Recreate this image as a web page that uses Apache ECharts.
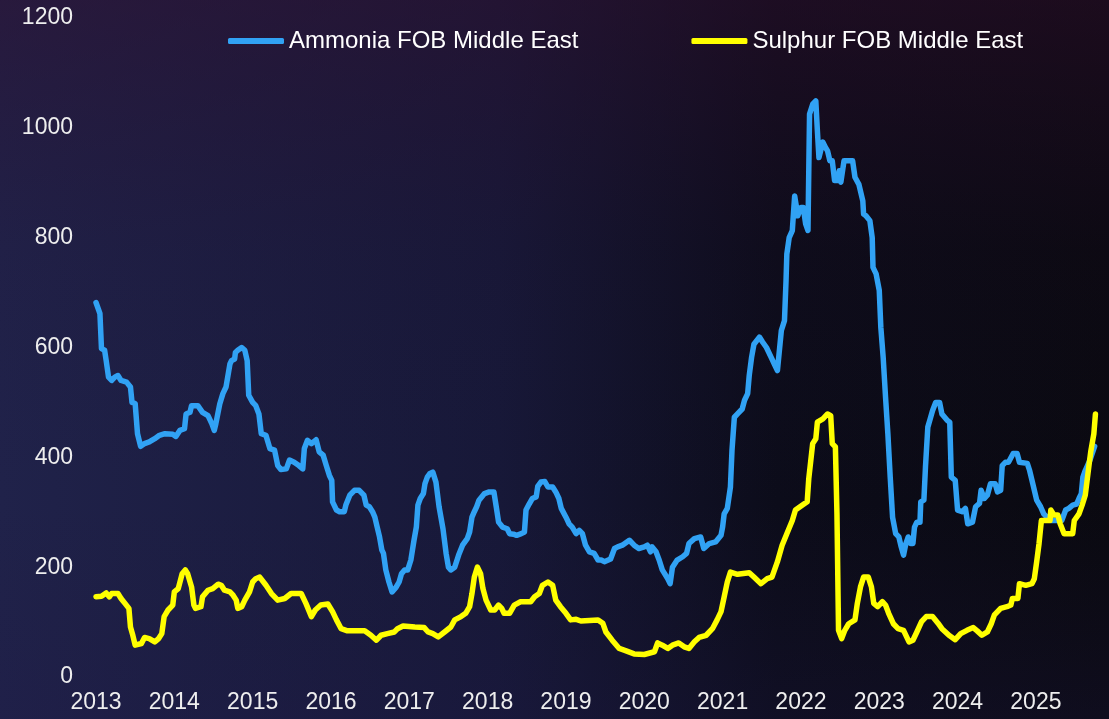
<!DOCTYPE html>
<html lang="en">
<head>
    <meta charset="utf-8" />
    <title>Ammonia vs Sulphur FOB Middle East</title>
    <script src="https://cdn.jsdelivr.net/npm/echarts@6/dist/echarts.min.js"></script>
    <style>
        html, body { margin: 0; padding: 0; background: #0b0b14; }
        #main { width: 1109px; height: 719px; }
    </style>
</head>
<body>
    <div id="main"></div>
    <script>
        // time in decimal years, values in USD/t
        var ammoniaTime = [2013.00,2013.05,2013.07,2013.11,2013.13,2013.16,2013.20,2013.24,2013.28,2013.32,2013.39,2013.44,2013.46,2013.50,2013.53,2013.57,2013.62,2013.68,2013.75,2013.81,2013.88,2013.98,
            2014.02,2014.07,2014.13,2014.15,2014.20,2014.22,2014.30,2014.36,2014.43,2014.48,2014.51,2014.53,2014.58,2014.62,2014.66,2014.71,2014.73,2014.77,2014.78,2014.81,2014.86,2014.90,2014.93,2014.95,
            2015.00,2015.04,2015.08,2015.09,2015.11,2015.17,2015.22,2015.28,2015.32,2015.36,2015.43,2015.47,2015.53,2015.59,2015.64,2015.66,2015.70,2015.75,2015.81,2015.85,2015.90,2015.94,2015.98,
            2016.01,2016.02,2016.07,2016.11,2016.17,2016.19,2016.24,2016.30,2016.36,2016.42,2016.45,2016.49,2016.53,2016.56,2016.59,2016.62,2016.65,2016.67,2016.70,2016.74,2016.78,2016.83,2016.87,2016.90,2016.94,2016.98,
            2017.02,2017.06,2017.09,2017.11,2017.14,2017.18,2017.20,2017.23,2017.26,2017.30,2017.34,2017.38,2017.43,2017.47,2017.50,2017.53,2017.58,2017.63,2017.68,2017.74,2017.77,2017.80,2017.83,2017.86,2017.89,2017.96,
            2018.02,2018.08,2018.11,2018.14,2018.19,2018.25,2018.28,2018.33,2018.37,2018.43,2018.47,2018.49,2018.53,2018.57,2018.62,2018.64,2018.68,2018.73,2018.77,2018.83,2018.87,2018.91,2018.94,
            2019.00,2019.04,2019.08,2019.13,2019.17,2019.21,2019.25,2019.30,2019.36,2019.41,2019.45,2019.49,2019.57,2019.62,2019.66,2019.72,2019.81,2019.87,2019.93,
            2020.00,2020.04,2020.08,2020.10,2020.15,2020.19,2020.23,2020.30,2020.33,2020.36,2020.42,2020.49,2020.54,2020.57,2020.64,2020.72,2020.76,2020.83,2020.91,2020.98,
            2021.00,2021.02,2021.06,2021.10,2021.12,2021.15,2021.19,2021.25,2021.28,2021.32,2021.34,2021.37,2021.40,2021.47,2021.51,2021.56,2021.62,2021.66,2021.70,2021.75,2021.79,2021.81,2021.82,2021.85,2021.89,2021.92,2021.96,
            2022.00,2022.03,2022.06,2022.09,2022.11,2022.15,2022.19,2022.21,2022.23,2022.28,2022.31,2022.34,2022.37,2022.40,2022.43,2022.47,2022.49,2022.51,2022.55,2022.66,2022.69,2022.74,2022.79,2022.80,2022.83,2022.88,2022.91,2022.92,2022.96,
            2023.00,2023.02,2023.05,2023.08,2023.11,2023.12,2023.14,2023.17,2023.21,2023.25,2023.28,2023.31,2023.34,2023.37,2023.40,2023.43,2023.45,2023.48,2023.52,2023.53,2023.57,2023.59,2023.62,2023.65,2023.68,2023.72,2023.77,2023.80,2023.87,2023.90,2023.92,2023.97,
            2024.00,2024.06,2024.10,2024.13,2024.19,2024.23,2024.28,2024.30,2024.34,2024.38,2024.42,2024.48,2024.51,2024.55,2024.57,2024.61,2024.65,2024.71,2024.76,2024.79,2024.89,2024.92,2024.95,
            2025.01,2025.06,2025.10,2025.14,2025.19,2025.33,2025.38,2025.42,2025.47,2025.52,2025.55,2025.58,2025.60,2025.63,2025.69,2025.75];
        var ammoniaPrice = [682,662,598,595,576,546,540,546,549,540,537,528,500,498,443,420,425,428,434,440,443,442,
            438,449,452,479,482,494,494,482,476,461,449,461,497,516,528,570,576,579,591,595,600,595,576,513,
            500,494,479,482,443,440,416,413,385,378,379,395,391,385,379,416,431,425,432,410,404,385,367,
            358,319,304,301,301,313,331,340,340,331,313,310,301,291,273,255,231,225,195,173,155,163,173,188,195,195,
            213,249,273,313,325,334,352,364,370,373,355,310,270,225,200,195,200,222,240,252,264,291,301,310,322,334,
            337,337,310,282,273,270,261,260,258,261,264,304,315,325,328,347,355,356,346,346,337,325,307,
            291,279,273,261,267,261,240,228,225,213,213,210,215,234,237,240,249,240,234,
            237,240,228,237,228,213,195,179,170,200,213,219,225,243,252,255,234,243,246,258,
            273,297,307,346,413,473,479,488,504,516,549,582,606,619,610,600,582,570,558,631,649,722,770,800,813,876,840,
            855,855,825,813,1025,1043,1049,995,946,974,965,958,940,940,904,904,922,901,940,940,910,897,867,843,840,831,800,746,734,
            704,637,582,510,443,440,364,291,261,255,237,222,243,255,243,243,273,282,282,319,322,382,455,470,485,500,500,479,467,464,364,358,
            304,301,307,279,282,310,316,340,325,331,352,352,337,340,385,391,391,407,407,391,389,376,358,
            322,310,297,291,285,285,304,307,313,315,325,334,364,376,395,420];

        var sulphurTime = [2013.00,2013.07,2013.13,2013.17,2013.20,2013.28,2013.32,2013.37,2013.42,2013.44,2013.47,2013.50,2013.58,2013.62,2013.68,2013.75,2013.80,2013.84,2013.87,2013.92,2013.98,
            2014.00,2014.05,2014.10,2014.14,2014.17,2014.22,2014.25,2014.27,2014.34,2014.36,2014.43,2014.49,2014.56,2014.60,2014.64,2014.71,2014.75,2014.79,2014.81,2014.86,2014.90,2014.96,
            2015.00,2015.04,2015.09,2015.17,2015.24,2015.32,2015.41,2015.49,2015.62,2015.68,2015.75,2015.80,2015.87,2015.96,
            2016.02,2016.07,2016.13,2016.21,2016.43,2016.51,2016.58,2016.64,2016.72,2016.81,2016.85,2016.92,
            2017.07,2017.19,2017.24,2017.30,2017.37,2017.45,2017.53,2017.58,2017.66,2017.72,2017.77,2017.80,2017.83,2017.87,2017.91,2017.94,2017.98,
            2018.04,2018.09,2018.14,2018.18,2018.21,2018.28,2018.34,2018.42,2018.55,2018.60,2018.66,2018.70,2018.77,2018.83,2018.87,2018.93,
            2019.00,2019.06,2019.13,2019.19,2019.41,2019.47,2019.51,2019.59,2019.68,2019.76,2019.87,
            2020.00,2020.13,2020.17,2020.23,2020.30,2020.36,2020.44,2020.51,2020.57,2020.64,2020.70,2020.79,2020.87,2020.93,2020.98,
            2021.02,2021.06,2021.10,2021.19,2021.34,2021.40,2021.49,2021.57,2021.63,2021.70,2021.76,2021.82,2021.89,2021.93,
            2022.02,2022.08,2022.10,2022.15,2022.19,2022.21,2022.28,2022.34,2022.38,2022.40,2022.44,2022.46,2022.48,2022.52,2022.56,2022.61,2022.69,2022.72,2022.76,2022.80,2022.86,2022.90,2022.93,2022.98,
            2023.04,2023.08,2023.12,2023.18,2023.24,2023.31,2023.38,2023.43,2023.48,2023.54,2023.60,2023.68,2023.75,2023.80,2023.89,2023.97,
            2024.04,2024.12,2024.20,2024.25,2024.31,2024.38,2024.43,2024.47,2024.55,2024.63,2024.68,2024.70,2024.77,2024.79,2024.87,2024.95,2024.98,
            2025.01,2025.04,2025.07,2025.18,2025.19,2025.23,2025.28,2025.31,2025.36,2025.47,2025.49,2025.55,2025.59,2025.63,2025.68,2025.70,2025.74,2025.76];
        var sulphurPrice = [146,147,153,146,152,152,143,134,125,91,76,58,61,72,70,64,70,79,110,122,131,
            155,161,188,195,188,164,131,125,128,146,158,161,169,167,158,155,149,140,125,128,140,155,
            173,179,182,167,152,140,143,152,152,134,110,122,131,133,
            119,104,88,84,84,76,67,76,79,82,88,93,
            91,90,82,79,73,82,91,104,110,116,128,152,182,200,188,161,140,
            122,122,131,125,116,116,131,137,137,146,152,167,173,167,140,128,
            116,104,105,102,104,98,82,67,52,48,42,
            41,46,62,58,52,58,62,55,52,64,72,76,88,104,119,
            146,173,191,187,190,182,170,179,182,210,240,261,285,304,
            313,319,361,425,434,464,470,479,476,425,419,297,85,70,85,97,104,134,164,182,182,164,134,128,
            137,131,116,97,88,85,64,67,82,101,110,110,98,88,76,68,
            79,85,90,84,76,82,97,113,125,128,131,143,143,170,167,170,179,
            210,243,285,285,304,295,295,279,261,261,285,297,313,331,388,410,443,479];

        var yearTicks = [2013, 2014, 2015, 2016, 2017, 2018, 2019, 2020, 2021, 2022, 2023, 2024, 2025];

        function zip(xs, ys) {
            var out = [];
            for (var i = 0; i < xs.length; i++) {
                out.push([xs[i], ys[i]]);
            }
            return out;
        }

        var chartDom = document.getElementById('main');
        var myChart = echarts.init(chartDom, null, { renderer: 'canvas' });

        var fontFam = '"Liberation Sans", Arial, sans-serif';
        var labelColor = '#eeeeee';

        var option = {
            animation: false,
            backgroundColor: {
                type: 'linear', x: 0, y: 0, x2: 1, y2: 0,
                colorStops: [
                    { offset: 0, color: '#20224a' },
                    { offset: 0.45, color: '#171838' },
                    { offset: 0.7, color: '#0c0c1a' },
                    { offset: 1, color: '#0a0910' }
                ]
            },
            graphic: [
                {
                    type: 'rect',
                    silent: true,
                    z: -1,
                    shape: { x: 0, y: 0, width: 1109, height: 719 },
                    style: {
                        fill: {
                            type: 'linear', x: 0, y: 0, x2: 0, y2: 1,
                            colorStops: [
                                { offset: 0, color: 'rgba(50,15,45,0.45)' },
                                { offset: 0.35, color: 'rgba(40,15,45,0.1)' },
                                { offset: 0.7, color: 'rgba(30,25,60,0)' },
                                { offset: 1, color: 'rgba(30,25,70,0.25)' }
                            ]
                        }
                    }
                }
            ],
            legend: {
                left: 223,
                top: 24,
                itemGap: 113,
                itemWidth: 56,
                itemHeight: 6,
                icon: 'roundRect',
                textStyle: { color: '#ffffff', fontSize: 24, fontFamily: fontFam },
                data: ['Ammonia FOB Middle East', 'Sulphur FOB Middle East']
            },
            grid: {
                left: 96,
                right: 12,
                top: 18,
                bottom: 42,
                containLabel: false
            },
            xAxis: {
                type: 'value',
                min: 2013,
                max: 2025.78,
                interval: 1,
                axisLine: { show: false },
                axisTick: { show: false },
                splitLine: { show: false },
                axisLabel: {
                    color: labelColor,
                    fontSize: 23,
                    fontFamily: fontFam,
                    margin: 14,
                    showMaxLabel: false,
                    formatter: function (v) {
                        return yearTicks.indexOf(Math.round(v)) >= 0 ? String(Math.round(v)) : '';
                    }
                }
            },
            yAxis: {
                type: 'value',
                min: 0,
                max: 1200,
                interval: 200,
                axisLine: { show: false },
                axisTick: { show: false },
                splitLine: { show: false },
                axisLabel: {
                    color: labelColor,
                    fontSize: 23,
                    fontFamily: fontFam,
                    margin: 23,
                    formatter: function (v) { return String(v); }
                }
            },
            series: [
                {
                    name: 'Ammonia FOB Middle East',
                    type: 'line',
                    data: zip(ammoniaTime, ammoniaPrice),
                    showSymbol: false,
                    symbol: 'none',
                    color: '#31a2f4',
                    lineStyle: { width: 5.5, color: '#31a2f4', cap: 'round', join: 'round' }
                },
                {
                    name: 'Sulphur FOB Middle East',
                    type: 'line',
                    data: zip(sulphurTime, sulphurPrice),
                    showSymbol: false,
                    symbol: 'none',
                    color: '#ffff00',
                    lineStyle: { width: 5.5, color: '#ffff00', cap: 'round', join: 'round' }
                }
            ]
        };

        option && myChart.setOption(option);
    </script>
</body>
</html>
